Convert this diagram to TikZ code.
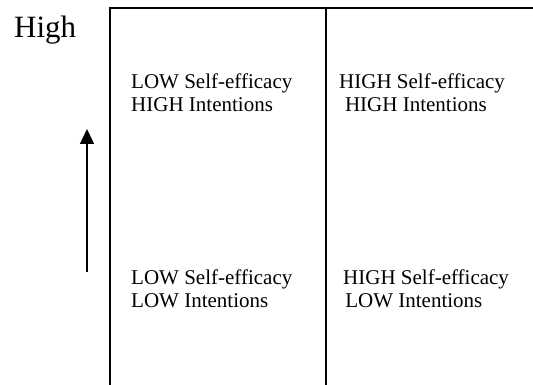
\documentclass[tikz,border=0pt]{standalone}
\usepackage{fontspec}
\setmainfont{Liberation Serif}
\usetikzlibrary{arrows.meta}
\tikzset{
  cell/.style={font=\fontsize{21}{22.5}\selectfont, align=left, anchor=north west, inner sep=0pt},
  rule/.style={line width=2pt},
  axisarrow/.style={line width=1.5pt, -{Triangle[length=15pt,width=14pt]}}
}
\begin{document}
\begin{tikzpicture}[x=1pt,y=1pt]
\useasboundingbox (0,0) rectangle (533,385);
% frame
\coordinate (tl) at (110,377);
\coordinate (tr) at (533,377);
\coordinate (bl) at (110,0);
\coordinate (tm) at (326,377);
\coordinate (bm) at (326,0);
\draw[rule] (bl) -- (tl) -- (tr);
\draw[rule] (tm) -- (bm);
% label
\node[font=\fontsize{31}{34}\selectfont, anchor=base west, inner sep=0pt] (high) at (14,347.5) {High};
% arrow
\coordinate (atail) at (87,113);
\coordinate (ahead) at (87,256);
\draw[axisarrow] (atail) -- (ahead);
% cells
\node[cell] (q1) at (131,311) {LOW Self-efficacy\\HIGH Intentions};
\node[cell] (q2) at (339,311) {HIGH Self-efficacy\\\hspace{0.28em}HIGH Intentions};
\node[cell] (q3) at (131,115) {LOW Self-efficacy\\LOW Intentions};
\node[cell] (q4) at (343,115) {HIGH Self-efficacy\\\hspace{0.1em}LOW Intentions};
\end{tikzpicture}
\end{document}
